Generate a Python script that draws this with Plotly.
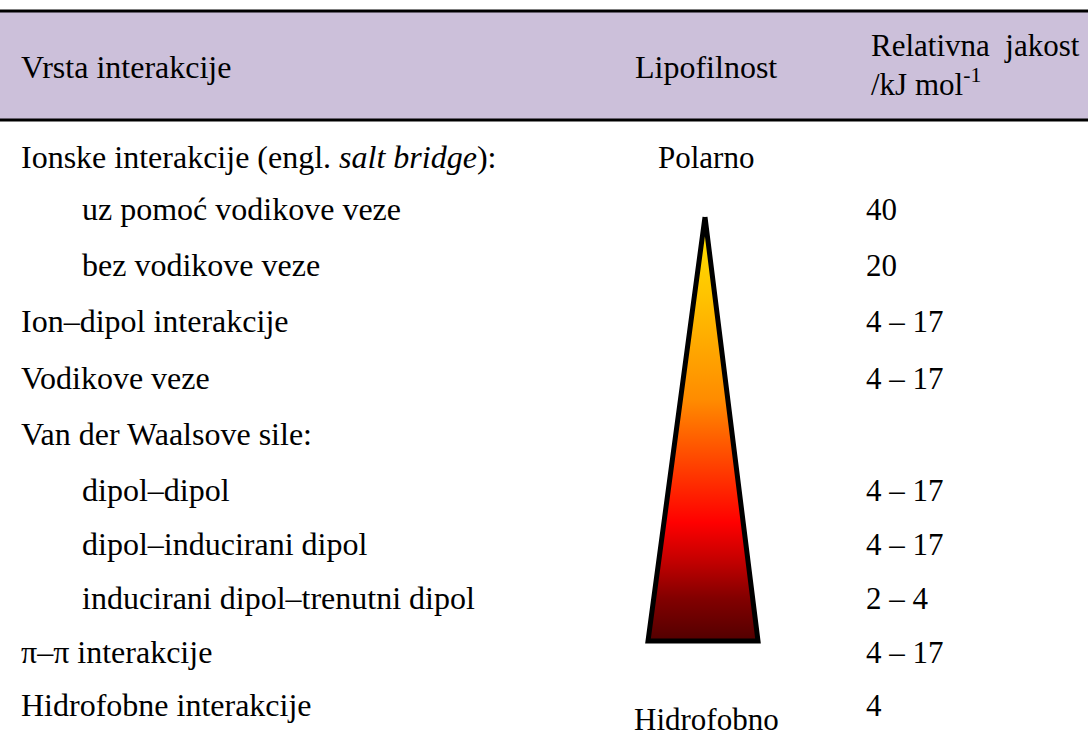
import plotly.graph_objects as go

# ---- data ----
interactions = [
    "Ionske interakcije (engl. <i>salt bridge</i>):",
    "uz pomoć vodikove veze",
    "bez vodikove veze",
    "Ion–dipol interakcije",
    "Vodikove veze",
    "Van der Waalsove sile:",
    "dipol–dipol",
    "dipol–inducirani dipol",
    "inducirani dipol–trenutni dipol",
    "π–π interakcije",
    "Hidrofobne interakcije",
]
indent_level = [0, 1, 1, 0, 0, 0, 1, 1, 1, 0, 0]
strengths = ["", "40", "20", "4 – 17", "4 – 17", "", "4 – 17", "4 – 17", "2 – 4", "4 – 17", "4"]
header_cols = ["Vrsta interakcije", "Lipofilnost", "Relativna\u00a0 jakost", "/kJ mol<sup>-1</sup>"]
scale_top_label = "Polarno"
scale_bottom_label = "Hidrofobno"

# ---- layout geometry (pixels) ----
W, H = 1088, 753
FONT = "Liberation Serif, Times New Roman, serif"
FS_TEXT, FS_NUM = 32, 31
ROW_Y = [157, 209, 265, 321, 378, 434, 490, 544, 598, 652, 705]
X_LEFT, INDENT, X_MID, X_VAL = 19, 61, 706, 864
HEAD_TOP, HEAD_BOT = 11, 120
LAVENDER = "#CCC0DA"

fig = go.Figure()

# gradient triangle (lipophilicity scale)
apex_y, base_y, half_base = 217, 641, 55
tri_x = [X_MID - 1, X_MID + half_base - 3, X_MID - half_base - 3, X_MID - 1]
tri_y = [apex_y, base_y, base_y, apex_y]
fig.add_trace(go.Scatter(
    x=tri_x, y=tri_y, mode="lines", fill="toself",
    line=dict(color="black", width=5),
    fillgradient=dict(
        type="vertical", start=apex_y, stop=base_y,
        colorscale=[[0.0, "#FFE400"], [0.18, "#FFC400"], [0.43, "#FF8C00"],
                    [0.72, "#FF0000"], [0.81, "#C40000"], [0.90, "#820000"],
                    [1.0, "#520000"]],
    ),
    hoverinfo="skip", showlegend=False,
))

shapes = [
    dict(type="rect", xref="x", yref="y", x0=0, x1=W, y0=HEAD_TOP, y1=HEAD_BOT,
         fillcolor=LAVENDER, line=dict(width=0), layer="below"),
    dict(type="line", xref="x", yref="y", x0=0, x1=W, y0=HEAD_TOP, y1=HEAD_TOP,
         line=dict(color="black", width=3)),
    dict(type="line", xref="x", yref="y", x0=0, x1=W, y0=HEAD_BOT, y1=HEAD_BOT,
         line=dict(color="black", width=3)),
]

ann = []
def txt(x, y, s, size, xanchor="left", yanchor="middle"):
    ann.append(dict(x=x, y=y, xref="x", yref="y", text=s, showarrow=False,
                    xanchor=xanchor, yanchor=yanchor,
                    font=dict(family=FONT, size=size, color="black")))

# header
txt(X_LEFT, 67, header_cols[0], FS_TEXT)
txt(X_MID, 67, header_cols[1], FS_TEXT, xanchor="center")
txt(X_VAL + 5, 45, header_cols[2], FS_NUM)
txt(X_VAL + 5, 104, header_cols[3], FS_NUM, yanchor="bottom")

# rows
for y, label, lvl, val in zip(ROW_Y, interactions, indent_level, strengths):
    txt(X_LEFT + INDENT * lvl, y, label, FS_TEXT)
    if val:
        txt(X_VAL, y, val, FS_NUM)

txt(X_MID, ROW_Y[0], scale_top_label, FS_NUM, xanchor="center")
txt(X_MID, 719, scale_bottom_label, FS_NUM, xanchor="center")

fig.update_layout(
    width=W, height=H, margin=dict(l=0, r=0, t=0, b=0),
    paper_bgcolor="white", plot_bgcolor="white",
    xaxis=dict(range=[0, W], visible=False, fixedrange=True),
    yaxis=dict(range=[H, 0], visible=False, fixedrange=True),
    shapes=shapes, annotations=ann, showlegend=False,
)
fig.write_html("out.html", config={"displayModeBar": False},
               post_script="document.body.style.margin='0';")
